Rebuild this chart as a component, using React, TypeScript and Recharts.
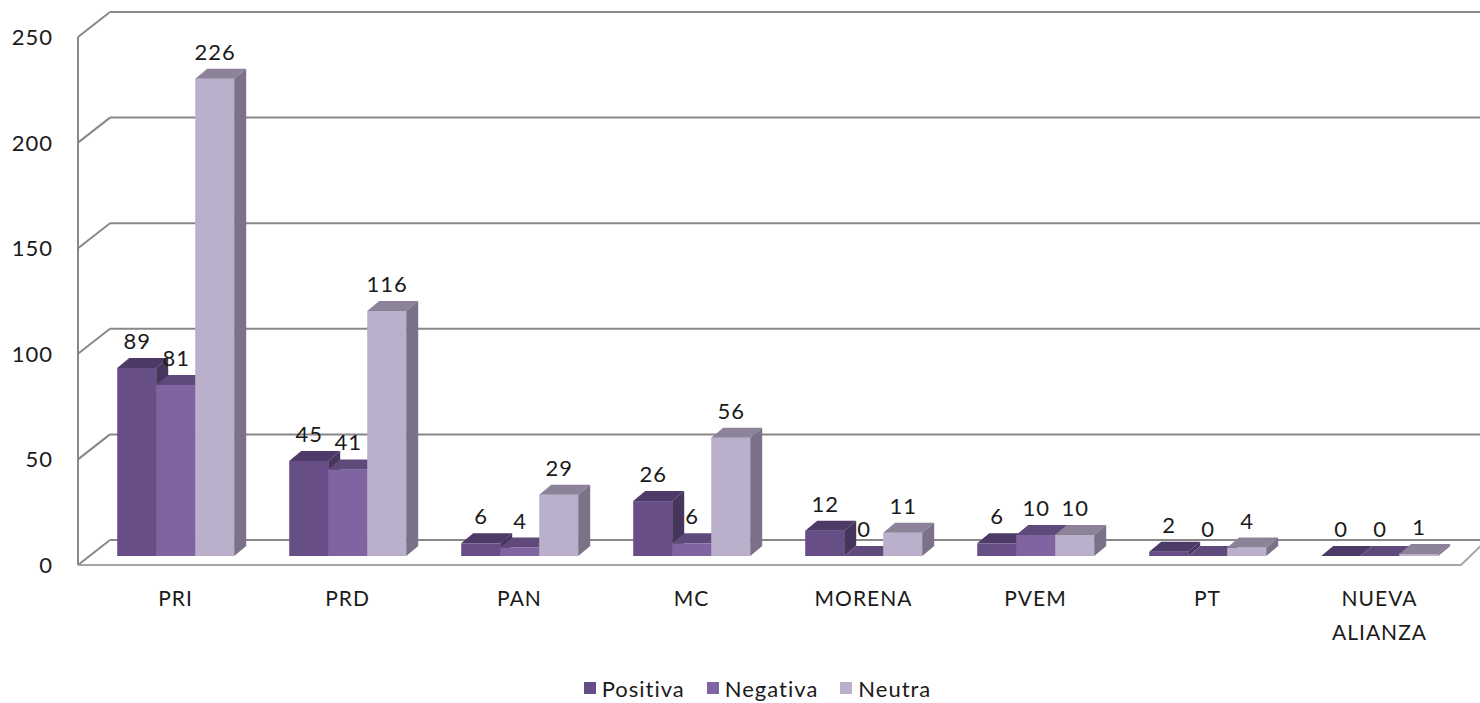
import React from "react";
import {
  BarChart,
  Bar,
  XAxis,
  YAxis,
  CartesianGrid,
  Legend,
  LabelList,
} from "recharts";

const categories = ["PRI", "PRD", "PAN", "MC", "MORENA", "PVEM", "PT", "NUEVA ALIANZA"];
const positiva = [89, 45, 6, 26, 12, 6, 2, 0];
const negativa = [81, 41, 4, 6, 0, 10, 0, 0];
const neutra = [226, 116, 29, 56, 11, 10, 4, 1];
const yTicks = [0, 50, 100, 150, 200, 250];

const data = categories.map((name, i) => ({
  name,
  Positiva: positiva[i],
  Negativa: negativa[i],
  Neutra: neutra[i],
}));

const W = 1480;
const H = 703;
const PLOT_LEFT = 89;
const PLOT_TOP = 28;
const PLOT_BOTTOM = 556;
const FONT = "Lato, 'Open Sans', sans-serif";
const FS = 22;
const SPACING = 1;
const TEXT = "#1a1a1a";
const GRID = "#888888";

// front plane of the 3d box vs. the back wall
const FRONT_X = 78;
const FRONT_DY = 9;
const BACK_X = 110;
const BACK_DY = -16;
const DEPTH_X = 12;
const DEPTH_Y = 10;

const FACES: Record<string, { front: string; top: string; side: string }> = {
  Positiva: { front: "#684e87", top: "#4e3a67", side: "#46355d" },
  Negativa: { front: "#8064a2", top: "#5f4a7b", side: "#56436f" },
  Neutra: { front: "#bab0cb", top: "#8c8399", side: "#7b7189" },
};

function Box3D(props: any) {
  const { x, y, width, height, faces } = props;
  const w = width;
  const h = Math.max(height || 0, 0);
  return (
    <g>
      <rect x={x} y={y} width={w} height={h} fill={faces.front} />
      <polygon
        points={`${x},${y} ${x + w},${y} ${x + w + DEPTH_X},${y - DEPTH_Y} ${x + DEPTH_X},${y - DEPTH_Y}`}
        fill={faces.top}
      />
      <polygon
        points={`${x + w},${y} ${x + w + DEPTH_X},${y - DEPTH_Y} ${x + w + DEPTH_X},${y + h - DEPTH_Y} ${x + w},${y + h}`}
        fill={faces.side}
      />
    </g>
  );
}

function ValueLabel(props: any) {
  const { x, y, width, value } = props;
  return (
    <text
      x={x + width / 2 + SPACING / 2}
      y={y - 19}
      textAnchor="middle"
      fontFamily={FONT}
      fontSize={FS}
      letterSpacing={SPACING}
      fill={TEXT}
    >
      {value}
    </text>
  );
}

function WallLine(props: any) {
  const { y1, x2 } = props;
  const isFloor = Math.abs(y1 - PLOT_BOTTOM) < 1;
  const isTop = Math.abs(y1 - PLOT_TOP) < 1;
  return (
    <g>
      <line x1={FRONT_X} y1={y1 + FRONT_DY} x2={BACK_X} y2={y1 + BACK_DY} stroke={GRID} strokeWidth={2} />
      <line x1={BACK_X} y1={y1 + BACK_DY} x2={W} y2={y1 + BACK_DY} stroke={GRID} strokeWidth={2} />
      {isTop && (
        <line
          x1={FRONT_X}
          y1={y1 + FRONT_DY}
          x2={FRONT_X}
          y2={PLOT_BOTTOM + FRONT_DY}
          stroke={GRID}
          strokeWidth={2}
        />
      )}
      {isFloor && (
        <polyline
          points={`${FRONT_X},${y1 + FRONT_DY} ${x2 - 4},${y1 + FRONT_DY} ${x2 + 30},${y1 + BACK_DY - 8}`}
          fill="none"
          stroke="#a6a6a6"
          strokeWidth={2}
        />
      )}
    </g>
  );
}

function YTick(props: any) {
  const { y, payload } = props;
  return (
    <text
      x={53}
      y={y + FRONT_DY + 8}
      textAnchor="end"
      fontFamily={FONT}
      fontSize={FS}
      letterSpacing={SPACING}
      fill={TEXT}
    >
      {payload.value}
    </text>
  );
}

function XTick(props: any) {
  const { x, payload } = props;
  const words = String(payload.value).split(" ");
  return (
    <text textAnchor="middle" fontFamily={FONT} fontSize={21} letterSpacing={SPACING} fill={TEXT}>
      {words.map((w, i) => (
        <tspan key={i} x={x + SPACING / 2} y={PLOT_BOTTOM + 50 + i * 34}>
          {w}
        </tspan>
      ))}
    </text>
  );
}

function LegendContent() {
  const items = ["Positiva", "Negativa", "Neutra"];
  return (
    <div
      style={{
        height: 30,
        display: "flex",
        justifyContent: "center",
        alignItems: "center",
        fontFamily: FONT,
        fontSize: FS,
        letterSpacing: SPACING,
        color: TEXT,
        gap: 22,
        paddingLeft: 50,
      }}
    >
      {items.map((k) => (
        <div key={k} style={{ display: "flex", alignItems: "center", gap: 6 }}>
          <span style={{ width: 12, height: 12, background: FACES[k].front, display: "inline-block" }} />
          <span>{k}</span>
        </div>
      ))}
    </div>
  );
}

export default function App() {
  return (
    <div style={{ position: "absolute", left: 0, top: 0, width: W, height: H, background: "#fff" }}>
      <BarChart
        width={W}
        height={H}
        data={data}
        margin={{ top: PLOT_TOP, right: W - 1465, bottom: 0, left: 0 }}
        barCategoryGap="16.4%"
        barGap={0}
      >
        <CartesianGrid vertical={false} horizontal={(p: any) => <WallLine key={p.key} {...p} />} />
        <XAxis
          dataKey="name"
          axisLine={false}
          tickLine={false}
          interval={0}
          height={H - PLOT_BOTTOM - 30}
          tick={<XTick />}
        />
        <YAxis
          width={PLOT_LEFT}
          domain={[0, 250]}
          ticks={yTicks}
          axisLine={false}
          tickLine={false}
          tick={<YTick />}
        />
        <Legend verticalAlign="bottom" content={<LegendContent />} />
        <Bar dataKey="Positiva" isAnimationActive={false} shape={(p: any) => <Box3D {...p} faces={FACES.Positiva} />}>
          <LabelList dataKey="Positiva" content={<ValueLabel />} />
        </Bar>
        <Bar dataKey="Negativa" isAnimationActive={false} shape={(p: any) => <Box3D {...p} faces={FACES.Negativa} />}>
          <LabelList dataKey="Negativa" content={<ValueLabel />} />
        </Bar>
        <Bar dataKey="Neutra" isAnimationActive={false} shape={(p: any) => <Box3D {...p} faces={FACES.Neutra} />}>
          <LabelList dataKey="Neutra" content={<ValueLabel />} />
        </Bar>
      </BarChart>
    </div>
  );
}
